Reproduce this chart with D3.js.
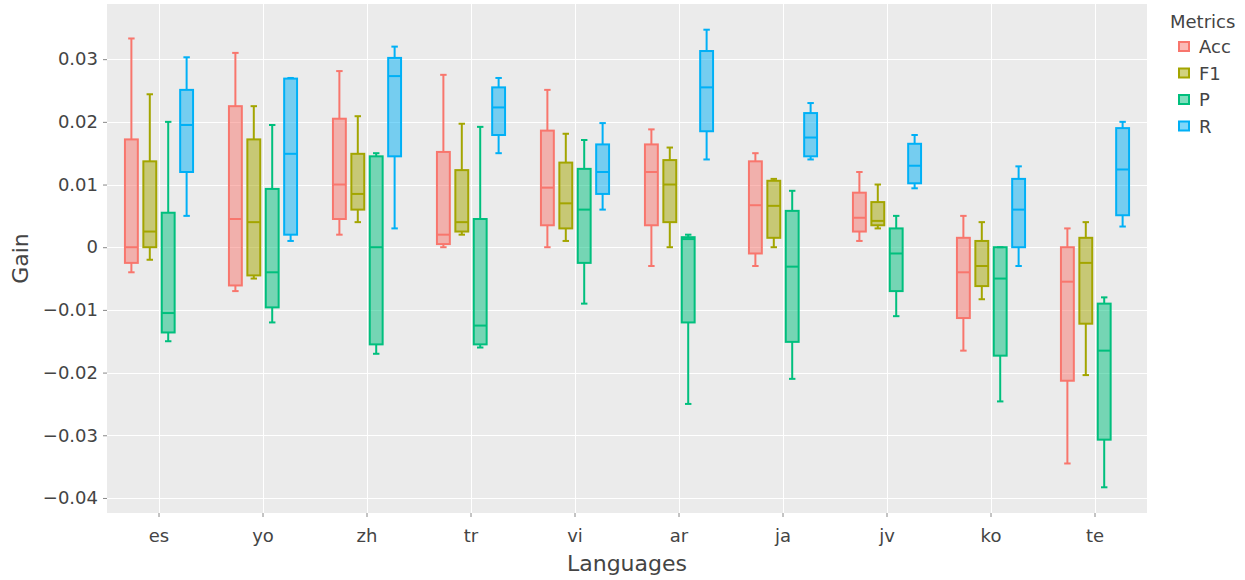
<!DOCTYPE html>
<html>
<head>
<meta charset="utf-8">
<script src="https://cdn.jsdelivr.net/npm/d3@7"></script>
<style>
  body { margin: 0; background: #fff; }
  text { font-family: "DejaVu Sans", Verdana, sans-serif; fill: #444; }
</style>
</head>
<body>
<div id="chart"></div>
<script>
const languages = ["es", "yo", "zh", "tr", "vi", "ar", "ja", "jv", "ko", "te"];
const metrics = ["Acc", "F1", "P", "R"];
const colors = ["#F8766D", "#A3A500", "#00BF7D", "#00B0F6"];
const yTicks = [-0.04, -0.03, -0.02, -0.01, 0, 0.01, 0.02, 0.03];

// [lower whisker, q1, median, q3, upper whisker] per language
const accStats = [
  [-0.0040, -0.0025, 0.0000, 0.0172, 0.0333],
  [-0.0070, -0.0061, 0.0045, 0.0225, 0.0310],
  [0.0020, 0.0045, 0.0100, 0.0205, 0.0281],
  [0.0000, 0.0005, 0.0020, 0.0152, 0.0275],
  [0.0000, 0.0035, 0.0095, 0.0186, 0.0251],
  [-0.0030, 0.0035, 0.0120, 0.0164, 0.0188],
  [-0.0030, -0.0010, 0.0067, 0.0137, 0.0150],
  [0.0010, 0.0025, 0.0047, 0.0087, 0.0120],
  [-0.0165, -0.0113, -0.0040, 0.0015, 0.0050],
  [-0.0345, -0.0213, -0.0055, 0.0000, 0.0030]
];
const f1Stats = [
  [-0.0020, 0.0000, 0.0025, 0.0137, 0.0244],
  [-0.0050, -0.0045, 0.0040, 0.0172, 0.0225],
  [0.0040, 0.0060, 0.0085, 0.0149, 0.0209],
  [0.0020, 0.0025, 0.0040, 0.0123, 0.0197],
  [0.0010, 0.0030, 0.0070, 0.0135, 0.0181],
  [0.0000, 0.0040, 0.0100, 0.0139, 0.0159],
  [0.0000, 0.0015, 0.0066, 0.0106, 0.0109],
  [0.0030, 0.0035, 0.0042, 0.0072, 0.0100],
  [-0.0083, -0.0062, -0.0030, 0.0010, 0.0040],
  [-0.0204, -0.0122, -0.0025, 0.0015, 0.0040]
];
const pStats = [
  [-0.0150, -0.0136, -0.0105, 0.0055, 0.0200],
  [-0.0120, -0.0096, -0.0040, 0.0093, 0.0195],
  [-0.0170, -0.0155, 0.0000, 0.0145, 0.0150],
  [-0.0160, -0.0155, -0.0125, 0.0045, 0.0192],
  [-0.0090, -0.0025, 0.0060, 0.0125, 0.0171],
  [-0.0250, -0.0120, 0.0013, 0.0016, 0.0020],
  [-0.0210, -0.0151, -0.0031, 0.0058, 0.0090],
  [-0.0110, -0.0070, -0.0010, 0.0030, 0.0050],
  [-0.0246, -0.0173, -0.0050, 0.0000, 0.0000],
  [-0.0383, -0.0307, -0.0165, -0.0090, -0.0080]
];
const rStats = [
  [0.0050, 0.0120, 0.0195, 0.0251, 0.0303],
  [0.0010, 0.0020, 0.0149, 0.0269, 0.0270],
  [0.0030, 0.0145, 0.0273, 0.0302, 0.0320],
  [0.0150, 0.0179, 0.0223, 0.0255, 0.0270],
  [0.0060, 0.0085, 0.0120, 0.0164, 0.0198],
  [0.0140, 0.0185, 0.0255, 0.0313, 0.0347],
  [0.0140, 0.0145, 0.0175, 0.0214, 0.0230],
  [0.0094, 0.0102, 0.0130, 0.0165, 0.0179],
  [-0.0030, 0.0000, 0.0060, 0.0109, 0.0129],
  [0.0033, 0.0051, 0.0124, 0.0190, 0.0200]
];
const allStats = [accStats, f1Stats, pStats, rStats];

const width = 1245, height = 580;
const margin = { top: 4, right: 98, bottom: 67, left: 107 };

const svg = d3.select("#chart").append("svg")
  .attr("width", width)
  .attr("height", height);

const x = d3.scaleBand()
  .domain(languages)
  .range([margin.left, width - margin.right])
  .padding(0);

const y = d3.scaleLinear()
  .domain([-0.0424, 0.0388])
  .range([height - margin.bottom, margin.top]);

const groupW = x.bandwidth() * 0.708;
const inner = d3.scaleBand()
  .domain(metrics)
  .range([-groupW / 2, groupW / 2])
  .paddingInner(0.3)
  .paddingOuter(0.15);

// background
svg.append("rect")
  .attr("x", margin.left)
  .attr("y", margin.top)
  .attr("width", width - margin.left - margin.right)
  .attr("height", height - margin.top - margin.bottom)
  .attr("fill", "#EBEBEB");

// grid
svg.append("g")
  .selectAll("line")
  .data(yTicks)
  .join("line")
  .attr("x1", margin.left)
  .attr("x2", width - margin.right)
  .attr("y1", d => Math.round(y(d)) + 0.5)
  .attr("y2", d => Math.round(y(d)) + 0.5)
  .attr("stroke", "#fff")
  .attr("stroke-width", 1);

svg.append("g")
  .selectAll("line")
  .data(languages)
  .join("line")
  .attr("x1", d => Math.round(x(d) + x.bandwidth() / 2) + 0.5)
  .attr("x2", d => Math.round(x(d) + x.bandwidth() / 2) + 0.5)
  .attr("y1", margin.top)
  .attr("y2", height - margin.bottom)
  .attr("stroke", "#fff")
  .attr("stroke-width", 1);

// axes
const yAxis = svg.append("g")
  .attr("transform", `translate(${margin.left},0)`)
  .call(d3.axisLeft(y).tickValues(yTicks).tickSize(4).tickPadding(5)
    .tickFormat(d => d === 0 ? "0" : d3.format(".2f")(d).replace("-", "\u2212")));
yAxis.select(".domain").remove();
yAxis.selectAll(".tick line").attr("stroke", "#888");
yAxis.selectAll(".tick text").attr("font-size", 18).attr("fill", "#444");

const xAxis = svg.append("g")
  .attr("transform", `translate(0,${height - margin.bottom})`)
  .call(d3.axisBottom(x).tickSize(4).tickPadding(12));
xAxis.select(".domain").remove();
xAxis.selectAll(".tick line").attr("stroke", "#888");
xAxis.selectAll(".tick text").attr("font-size", 18).attr("fill", "#444");

// axis titles
svg.append("text")
  .attr("x", (margin.left + width - margin.right) / 2)
  .attr("y", 571)
  .attr("text-anchor", "middle")
  .attr("font-size", 22)
  .text("Languages");

svg.append("text")
  .attr("transform", `translate(28,${(margin.top + height - margin.bottom) / 2}) rotate(-90)`)
  .attr("text-anchor", "middle")
  .attr("font-size", 22)
  .text("Gain");

// boxes
metrics.forEach((m, mi) => {
  const color = colors[mi];
  const bw = inner.bandwidth();
  const g = svg.append("g").attr("class", "series-" + m);
  const rows = allStats[mi].map((s, i) => ({ lang: languages[i], s: s }));

  const cx = d => x(d.lang) + x.bandwidth() / 2 + inner(m) + bw / 2;

  const box = g.selectAll(".box")
    .data(rows)
    .join("g")
    .attr("class", "box");

  // whiskers
  box.append("line")
    .attr("x1", cx).attr("x2", cx)
    .attr("y1", d => y(d.s[3])).attr("y2", d => y(d.s[4]))
    .attr("stroke", color).attr("stroke-width", 2);
  box.append("line")
    .attr("x1", cx).attr("x2", cx)
    .attr("y1", d => y(d.s[1])).attr("y2", d => y(d.s[0]))
    .attr("stroke", color).attr("stroke-width", 2);
  // caps
  [0, 4].forEach(k => {
    box.append("line")
      .attr("x1", d => cx(d) - bw / 4).attr("x2", d => cx(d) + bw / 4)
      .attr("y1", d => y(d.s[k])).attr("y2", d => y(d.s[k]))
      .attr("stroke", color).attr("stroke-width", 2);
  });
  // box
  box.append("rect")
    .attr("x", d => cx(d) - bw / 2)
    .attr("width", bw)
    .attr("y", d => y(d.s[3]))
    .attr("height", d => Math.max(0.5, y(d.s[1]) - y(d.s[3])))
    .attr("fill", color)
    .attr("fill-opacity", 0.5)
    .attr("stroke", color)
    .attr("stroke-width", 2);
  // median
  box.append("line")
    .attr("x1", d => cx(d) - bw / 2).attr("x2", d => cx(d) + bw / 2)
    .attr("y1", d => y(d.s[2])).attr("y2", d => y(d.s[2]))
    .attr("stroke", color).attr("stroke-width", 2);
});

// legend
const legend = svg.append("g").attr("transform", "translate(1170,0)");
legend.append("text")
  .attr("x", 0).attr("y", 28)
  .attr("font-size", 18)
  .text("Metrics");

const item = legend.selectAll(".item")
  .data(metrics)
  .join("g")
  .attr("class", "item")
  .attr("transform", (d, i) => `translate(0,${46 + i * 26.5})`);

item.append("rect")
  .attr("x", 9).attr("y", -4)
  .attr("width", 10).attr("height", 9)
  .attr("fill", (d, i) => colors[i])
  .attr("fill-opacity", 0.5)
  .attr("stroke", (d, i) => colors[i])
  .attr("stroke-width", 2);

item.append("text")
  .attr("x", 29).attr("y", 7)
  .attr("font-size", 18)
  .text(d => d);
</script>
</body>
</html>
